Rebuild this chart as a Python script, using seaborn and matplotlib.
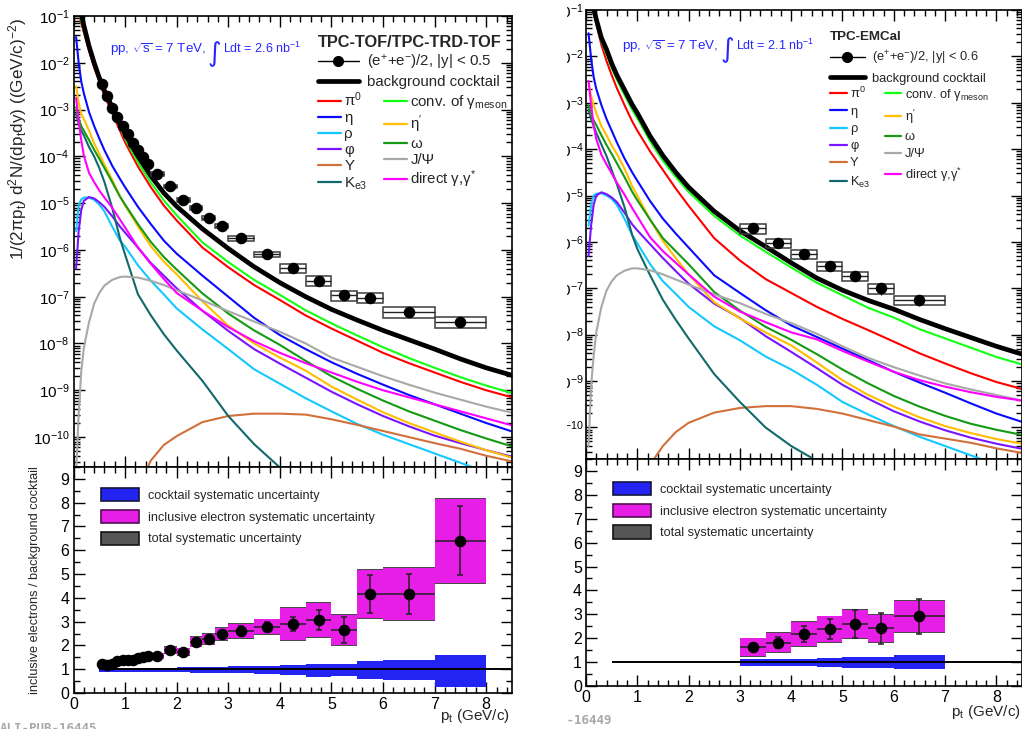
import numpy as np
import pandas as pd
import matplotlib
matplotlib.use("Agg")
import matplotlib.pyplot as plt
from matplotlib.lines import Line2D
from matplotlib.patches import Patch, Rectangle
from matplotlib.ticker import LogLocator, MultipleLocator, NullFormatter
import seaborn as sns

nan = np.nan

# ---------------------------------------------------------------- cocktail
# transverse-momentum grid (GeV/c) on which the cocktail curves are tabulated
PT_GRID = [0.05, 0.1, 0.15, 0.2, 0.3, 0.4, 0.5, 0.6, 0.75, 0.9, 1.0, 1.25, 1.5,
           1.75, 2.0, 2.5, 3.0, 3.5, 4.0, 4.5, 5.0, 5.5, 6.0, 6.5, 7.0, 7.5, 8.0, 8.5]

# TPC-TOF/TPC-TRD-TOF cocktail, log10 of invariant yield
L_BG = [-0.4, -0.75, -0.95, -1.2, -1.64, -2.0, -2.32, -2.6, -2.95, -3.3, -3.52, -4.0, -4.42,
        -4.78, -5.07, -5.55, -5.97, -6.36, -6.7, -7.0, -7.27, -7.5, -7.72, -7.92, -8.12, -8.33, -8.52, -8.68]
L_PI0 = [-0.5, -0.9, -1.15, -1.35, -1.74, -2.1, -2.4, -2.7, -3.08, -3.45, -3.7, -4.22, -4.66,
         -5.05, -5.37, -5.95, -6.37, -6.75, -7.07, -7.4, -7.68, -7.94, -8.2, -8.42, -8.62, -8.82, -9.0, -9.15]
L_ETA = [-1.45, -2.0, -2.4, -2.65, -3.05, -3.35, -3.62, -3.87, -4.2, -4.48, -4.66, -5.08, -5.45,
         -5.8, -6.08, -6.55, -7.0, -7.45, -7.82, -8.12, -8.4, -8.65, -8.88, -9.1, -9.3, -9.5, -9.7, -9.88]
L_RHO = [-5.6, -5.05, -4.92, -4.88, -4.88, -4.93, -5.03, -5.18, -5.5, -5.8, -5.93, -6.33, -6.66,
         -6.95, -7.25, -7.7, -8.12, -8.55, -8.86, -9.17, -9.45, -9.72, -9.95, -10.15, -10.35, -10.55, -10.75, -10.95]
L_PHI = [-6.4, -5.6, -5.15, -4.95, -4.87, -4.9, -4.98, -5.08, -5.28, -5.5, -5.63, -5.95, -6.28,
         -6.55, -6.82, -7.3, -7.73, -8.12, -8.43, -8.73, -9.03, -9.3, -9.55, -9.77, -9.97, -10.13, -10.28, -10.42]
L_UPS = [nan, nan, nan, nan, nan, nan, nan, nan, nan, nan, nan, -11.1, -10.5,
         -10.17, -9.98, -9.68, -9.55, -9.5, -9.5, -9.52, -9.62, -9.74, -9.87, -10.0, -10.13, -10.25, -10.4, -10.52]
L_KE3 = [-3.1, -3.3, -3.45, -3.55, -3.8, -4.0, -4.25, -4.55, -5.1, -5.75, -6.1, -6.95, -7.4,
         -7.8, -8.15, -8.8, -9.55, -10.15, -10.65, -11.1, nan, nan, nan, nan, nan, nan, nan, nan]
L_CONV = [-0.45, -0.85, -1.1, -1.3, -1.68, -2.03, -2.33, -2.62, -3.0, -3.37, -3.62, -4.13, -4.56,
          -4.94, -5.26, -5.84, -6.26, -6.64, -6.96, -7.29, -7.57, -7.83, -8.08, -8.31, -8.52, -8.72, -8.9, -9.06]
L_ETAP = [-2.5, -2.85, -3.1, -3.2, -3.45, -3.72, -3.95, -4.18, -4.5, -4.85, -5.05, -5.5, -5.92,
          -6.25, -6.52, -7.1, -7.62, -8.0, -8.3, -8.58, -8.92, -9.2, -9.47, -9.7, -9.9, -10.1, -10.28, -10.44]
L_OMEGA = [-2.95, -3.2, -3.35, -3.45, -3.65, -3.86, -4.05, -4.25, -4.55, -4.86, -5.03, -5.45, -5.83,
           -6.15, -6.42, -6.93, -7.36, -7.72, -8.03, -8.37, -8.7, -8.97, -9.22, -9.45, -9.65, -9.85, -10.03, -10.2]
L_JPSI = [-10.8, -9.5, -8.6, -8.1, -7.55, -7.15, -6.92, -6.76, -6.64, -6.58, -6.57, -6.59, -6.66,
          -6.75, -6.86, -7.08, -7.31, -7.53, -7.75, -8.0, -8.3, -8.5, -8.7, -8.88, -9.05, -9.2, -9.35, -9.48]
L_DIRECT = [-2.75, -3.25, -3.65, -3.98, -4.35, -4.55, -4.73, -4.88, -5.1, -5.35, -5.52, -5.95, -6.3,
            -6.62, -6.92, -7.3, -7.65, -7.95, -8.2, -8.42, -8.62, -8.82, -9.0, -9.15, -9.3, -9.45, -9.6, -9.75]

# TPC-EMCal cocktail, log10 of invariant yield
R_BG = [-0.45, -0.78, -0.97, -1.2, -1.6, -1.85, -2.15, -2.4, -2.72, -3.04, -3.22, -3.72, -4.14,
        -4.5, -4.82, -5.34, -5.76, -6.1, -6.45, -6.78, -7.04, -7.26, -7.45, -7.67, -7.87, -8.06, -8.25, -8.42]
R_PI0 = [-0.5, -0.8, -1.05, -1.3, -1.75, -2.1, -2.4, -2.68, -3.05, -3.4, -3.6, -4.05, -4.45,
         -4.85, -5.22, -5.92, -6.4, -6.8, -7.1, -7.4, -7.66, -7.9, -8.15, -8.4, -8.62, -8.83, -9.02, -9.17]
R_ETA = [-1.5, -2.05, -2.45, -2.7, -3.05, -3.35, -3.6, -3.85, -4.2, -4.5, -4.68, -5.12, -5.5,
         -5.82, -6.12, -6.72, -7.1, -7.47, -7.8, -8.05, -8.3, -8.55, -8.8, -9.03, -9.25, -9.48, -9.7, -9.88]
R_RHO = [-5.65, -5.2, -5.0, -4.96, -4.95, -5.0, -5.07, -5.2, -5.5, -5.85, -6.03, -6.48, -6.85,
         -7.12, -7.4, -7.82, -8.12, -8.47, -8.75, -9.08, -9.45, -9.72, -9.97, -10.2, -10.4, -10.6, -10.8, -11.0]
R_PHI = [-6.3, -5.64, -5.2, -5.0, -4.93, -4.97, -5.04, -5.14, -5.37, -5.62, -5.75, -6.05, -6.35,
         -6.63, -6.9, -7.33, -7.64, -8.03, -8.37, -8.72, -9.08, -9.38, -9.65, -9.87, -10.06, -10.22, -10.35, -10.46]
R_UPS = [nan, nan, nan, nan, nan, nan, nan, nan, nan, nan, nan, -10.8, -10.4,
         -10.1, -9.9, -9.68, -9.58, -9.54, -9.54, -9.6, -9.7, -9.84, -9.98, -10.15, -10.24, -10.33, -10.45, -10.55]
R_KE3 = [-3.15, -3.35, -3.5, -3.65, -3.9, -4.15, -4.45, -4.75, -5.25, -5.85, -6.15, -6.72, -7.25,
         -7.68, -8.08, -8.85, -9.45, -10.0, -10.4, -10.72, -11.0, nan, nan, nan, nan, nan, nan, nan]
R_CONV = [-0.5, -0.85, -1.05, -1.28, -1.68, -1.95, -2.25, -2.5, -2.83, -3.15, -3.33, -3.83, -4.25,
          -4.6, -4.92, -5.44, -5.86, -6.21, -6.55, -6.88, -7.15, -7.42, -7.63, -7.88, -8.08, -8.28, -8.48, -8.64]
R_ETAP = [-2.6, -2.85, -3.05, -3.22, -3.5, -3.7, -3.92, -4.1, -4.42, -4.8, -5.0, -5.52, -5.98,
          -6.35, -6.7, -7.3, -7.65, -7.95, -8.23, -8.6, -8.98, -9.3, -9.55, -9.78, -9.97, -10.12, -10.25, -10.35]
R_OMEGA = [-3.05, -3.25, -3.38, -3.48, -3.7, -3.91, -4.1, -4.3, -4.6, -4.92, -5.1, -5.52, -5.92,
           -6.2, -6.48, -7.08, -7.48, -7.83, -8.11, -8.42, -8.75, -9.05, -9.32, -9.55, -9.75, -9.92, -10.05, -10.16]
R_JPSI = [-10.4, -9.1, -8.45, -7.95, -7.4, -7.05, -6.85, -6.72, -6.62, -6.57, -6.57, -6.61, -6.7,
          -6.81, -6.92, -7.13, -7.32, -7.55, -7.75, -7.98, -8.25, -8.5, -8.7, -8.88, -9.05, -9.18, -9.3, -9.42]
R_DIRECT = [-2.53, -3.05, -3.5, -3.78, -4.12, -4.33, -4.52, -4.72, -4.98, -5.27, -5.45, -5.9, -6.2,
            -6.45, -6.7, -7.18, -7.5, -7.73, -7.95, -8.1, -8.35, -8.58, -8.8, -8.98, -9.12, -9.24, -9.34, -9.42]

# ---------------------------------------------------------------- measured electrons
L_EDGES = [0.5, 0.6, 0.7, 0.8, 0.9, 1.0, 1.1, 1.2, 1.3, 1.4, 1.5, 1.75, 2.0, 2.25, 2.5,
           2.75, 3.0, 3.5, 4.0, 4.5, 5.0, 5.5, 6.0, 7.0, 8.0]
L_YIELD = [3.47e-3, 1.91e-3, 1.10e-3, 6.9e-4, 4.5e-4, 3.0e-4, 1.95e-4, 1.35e-4, 9.8e-5, 6.9e-5,
           4.2e-5, 2.3e-5, 1.17e-5, 7.8e-6, 4.9e-6, 3.2e-6, 1.78e-6, 8.1e-7, 4.1e-7, 2.2e-7,
           1.07e-7, 9.5e-8, 4.8e-8, 2.95e-8]
L_RATIO = [1.22, 1.18, 1.20, 1.36, 1.38, 1.40, 1.40, 1.47, 1.52, 1.55, 1.55, 1.81, 1.74, 2.15,
           2.28, 2.48, 2.62, 2.79, 2.90, 3.07, 2.65, 4.16, 4.16, 6.39]
L_STAT = [0.06, 0.06, 0.06, 0.06, 0.06, 0.06, 0.06, 0.06, 0.06, 0.06, 0.06, 0.08, 0.08, 0.10,
          0.12, 0.12, 0.20, 0.20, 0.30, 0.43, 0.55, 0.78, 0.84, 1.45]
L_SYS = [0.07, 0.07, 0.07, 0.08, 0.08, 0.08, 0.08, 0.09, 0.09, 0.10, 0.12, 0.13, 0.14, 0.20,
         0.22, 0.25, 0.30, 0.30, 0.66, 0.72, 0.63, 1.00, 1.10, 1.75]
L_TOTAL = [0.09, 0.09, 0.09, 0.10, 0.10, 0.10, 0.10, 0.11, 0.11, 0.12, 0.14, 0.16, 0.17, 0.23,
           0.25, 0.28, 0.34, 0.34, 0.70, 0.76, 0.67, 1.04, 1.14, 1.80]
L_COCK_LO = [0.90, 0.90, 0.90, 0.90, 0.90, 0.90, 0.90, 0.90, 0.90, 0.90, 0.90, 0.88, 0.87, 0.86,
             0.86, 0.85, 0.82, 0.80, 0.76, 0.68, 0.71, 0.58, 0.53, 0.27]
L_COCK_HI = [1.06, 1.06, 1.06, 1.06, 1.06, 1.06, 1.06, 1.06, 1.06, 1.06, 1.06, 1.07, 1.08, 1.09,
             1.10, 1.10, 1.12, 1.13, 1.18, 1.22, 1.22, 1.33, 1.39, 1.60]

R_EDGES = [3.0, 3.5, 4.0, 4.5, 5.0, 5.5, 6.0, 7.0]
R_YIELD = [1.95e-6, 9.5e-7, 5.4e-7, 3.0e-7, 1.82e-7, 1.0e-7, 5.5e-8]
R_RATIO = [1.62, 1.82, 2.18, 2.38, 2.59, 2.41, 2.91]
R_STAT = [0.15, 0.22, 0.33, 0.43, 0.58, 0.66, 0.75]
R_SYS = [0.37, 0.39, 0.49, 0.53, 0.58, 0.56, 0.65]
R_TOTAL = [0.40, 0.43, 0.53, 0.57, 0.62, 0.60, 0.70]
R_COCK_LO = [0.84, 0.83, 0.83, 0.78, 0.74, 0.74, 0.70]
R_COCK_HI = [1.12, 1.12, 1.12, 1.17, 1.23, 1.23, 1.30]

# ---------------------------------------------------------------- styling
SOURCES = ["pi0", "eta", "rho", "phi", "ups", "ke3", "conv", "etap", "omega", "jpsi", "direct"]
LABELS = {
    "pi0": r"π$^{0}$", "eta": "η", "rho": "ρ", "phi": "φ", "ups": "Υ",
    "ke3": r"K$_{\rm e3}$", "conv": r"conv. of γ$_{\rm meson}$", "etap": r"η$^{\prime}$",
    "omega": "ω", "jpsi": "J/Ψ", "direct": r"direct γ,γ$^{*}$",
}
COLORS = {
    "pi0": "#ff0000", "eta": "#0a0aff", "rho": "#14c8ff", "phi": "#7a14ff", "ups": "#d2703c",
    "ke3": "#11696b", "conv": "#11ff11", "etap": "#ffbe00", "omega": "#149a14",
    "jpsi": "#a8a8a8", "direct": "#ff00ff",
}
BLUE_TXT = "#2626ff"
BOX_BLUE = "#2323f2"
BOX_MAGENTA = "#e61ee6"
BOX_GRAY = "#4a4a4a"

sns.set_style("ticks")
plt.rcParams.update({
    "font.family": ["Liberation Sans", "DejaVu Sans"],
    "mathtext.fontset": "custom",
    "mathtext.rm": "Liberation Sans",
    "mathtext.it": "Liberation Sans:italic",
    "mathtext.bf": "Liberation Sans:bold",
    "mathtext.sf": "Liberation Sans",
    "axes.linewidth": 1.1,
    "axes.edgecolor": "black",
    "xtick.color": "black",
    "ytick.color": "black",
})

fig = plt.figure(figsize=(10.22, 7.29), dpi=100)
W, H = 1022.0, 729.0


def fig_rect(x0, y0, x1, y1):
    return [x0 / W, 1 - y1 / H, (x1 - x0) / W, (y1 - y0) / H]


axL_top = fig.add_axes(fig_rect(73.5, 16, 512, 467))
axL_bot = fig.add_axes(fig_rect(73.5, 467, 512, 693))
axR_top = fig.add_axes(fig_rect(586, 10, 1022, 459))
axR_bot = fig.add_axes(fig_rect(586, 459, 1022, 686))


def style_common(ax):
    ax.set_xlim(0, 8.5)
    ax.xaxis.set_major_locator(MultipleLocator(1))
    ax.xaxis.set_minor_locator(MultipleLocator(0.2))
    ax.tick_params(which="both", direction="in", top=True, right=True, width=1.0,
                   labelsize=11.5, pad=3)
    ax.tick_params(which="major", length=8)
    ax.tick_params(which="minor", length=4)
    for s in ax.spines.values():
        s.set_linewidth(1.2)


def style_top(ax, ymin):
    ax.set_yscale("log")
    style_common(ax)
    ax.set_ylim(ymin, 0.1)
    ax.yaxis.set_major_locator(LogLocator(base=10, numticks=30))
    ax.yaxis.set_minor_locator(LogLocator(base=10, subs=np.arange(2, 10), numticks=30))
    ax.yaxis.set_minor_formatter(NullFormatter())
    ax.tick_params(axis="y", labelsize=11)
    ax.tick_params(axis="x", labelbottom=False)


def style_bot(ax):
    style_common(ax)
    ax.set_ylim(0, 9.5)
    ax.yaxis.set_major_locator(MultipleLocator(1))
    ax.yaxis.set_minor_locator(MultipleLocator(0.5))


def cocktail_frame(curves):
    rows = []
    for src, vals in curves.items():
        for pt, v in zip(PT_GRID, vals):
            if not np.isnan(v):
                rows.append((src, pt, 10.0 ** v))
    return pd.DataFrame(rows, columns=["source", "pt", "yield"])


def draw_spectrum(ax, curves, bg, edges, yld, ratio, stat, sys):
    df = cocktail_frame(curves)
    sns.lineplot(data=df, x="pt", y="yield", hue="source", hue_order=SOURCES,
                 palette=COLORS, estimator=None, sort=False, lw=1.5, legend=False, ax=ax)
    bg_df = pd.DataFrame({"pt": PT_GRID, "yield": 10.0 ** np.asarray(bg)})
    sns.lineplot(data=bg_df, x="pt", y="yield", color="black", lw=3.4,
                 estimator=None, sort=False, ax=ax)

    edges = np.asarray(edges)
    centers = 0.5 * (edges[1:] + edges[:-1])
    widths = edges[1:] - edges[:-1]
    yld = np.asarray(yld)
    rel_sys = np.asarray(sys) / np.asarray(ratio)
    rel_stat = np.asarray(stat) / np.asarray(ratio)
    lo = yld * (1 - rel_sys)
    hi = yld * (1 + rel_sys)
    ax.bar(centers, hi - lo, bottom=lo, width=widths, align="center",
           facecolor="none", edgecolor="#3c3c3c", lw=1.1, zorder=5)
    ax.errorbar(centers, yld, xerr=widths / 2, yerr=yld * rel_stat, fmt="none",
                ecolor="#222222", elinewidth=1.0, capsize=0, zorder=6)
    ax.plot(centers, yld, "o", color="black", ms=7.3, zorder=7, ls="none")
    ax.set_xlabel("")
    ax.set_ylabel("")


def draw_ratio(ax, edges, ratio, stat, sys, total, c_lo, c_hi):
    edges = np.asarray(edges)
    centers = 0.5 * (edges[1:] + edges[:-1])
    widths = edges[1:] - edges[:-1]
    ratio = np.asarray(ratio)
    c_lo, c_hi = np.asarray(c_lo), np.asarray(c_hi)
    ax.bar(centers, c_hi - c_lo, bottom=c_lo, width=widths, color=BOX_BLUE, lw=0, zorder=2)
    total = np.asarray(total)
    ax.bar(centers, 2 * total, bottom=ratio - total, width=widths, color=BOX_GRAY, lw=0, zorder=3)
    sys = np.asarray(sys)
    ax.bar(centers, 2 * sys, bottom=ratio - sys, width=widths, color=BOX_MAGENTA, lw=0, zorder=4)
    ax.hlines(1.0, 0.5, 8.5, color="black", lw=1.4, zorder=5)
    ax.errorbar(centers, ratio, xerr=widths / 2, fmt="none", ecolor="#222222",
                elinewidth=1.1, capsize=0, zorder=6)
    ax.errorbar(centers, ratio, yerr=stat, fmt="none", ecolor="#222222",
                elinewidth=1.1, capsize=2.5, capthick=1.1, zorder=6)
    ax.plot(centers, ratio, "o", color="black", ms=7.3, zorder=7, ls="none")


def top_legends(ax, title, data_label, fs, tfs, x0, y_title, y_comp, hl_small, sp1, sp2):
    h_data = Line2D([], [], color="black", marker="o", ms=7, lw=1.0)
    h_bg = Line2D([], [], color="black", lw=3.4)
    leg1 = ax.legend([h_data, h_bg], [data_label, "background cocktail"], title=title,
                     loc="upper left", bbox_to_anchor=(x0, y_title), frameon=False,
                     fontsize=fs, title_fontproperties={"weight": "bold", "size": tfs},
                     alignment="left", handlelength=2.7, handletextpad=0.55,
                     borderpad=0, borderaxespad=0, labelspacing=sp1)
    ax.add_artist(leg1)
    handles = [Line2D([], [], color=COLORS[s], lw=1.6) for s in SOURCES]
    labels = [LABELS[s] for s in SOURCES]
    ax.legend(handles, labels, ncol=2, loc="upper left", bbox_to_anchor=(x0, y_comp),
              frameon=False, fontsize=fs, handlelength=hl_small, handletextpad=0.25,
              columnspacing=1.1, labelspacing=sp2, borderpad=0, borderaxespad=0)


def ratio_legend(ax, x0, y0):
    handles = [Patch(facecolor=BOX_BLUE, edgecolor="#151540", lw=1.2),
               Patch(facecolor=BOX_MAGENTA, edgecolor="#501050", lw=1.2),
               Patch(facecolor="#555555", edgecolor="#151515", lw=1.2)]
    labels = ["cocktail systematic uncertainty",
              "inclusive electron systematic uncertainty",
              "total systematic uncertainty"]
    ax.legend(handles, labels, loc="upper left", bbox_to_anchor=(x0, y0), frameon=False,
              fontsize=9.1, handlelength=3.0, handleheight=1.25, handletextpad=0.7,
              labelspacing=0.62, borderpad=0, borderaxespad=0)


def lumi_text(ax, x, y, lumi):
    t1 = ax.text(x, y, r"pp, $\sqrt{\rm s}$ = 7 TeV,", transform=ax.transAxes,
                 ha="left", va="baseline", color=BLUE_TXT, fontsize=9.6)
    t2 = ax.annotate("∫", xy=(1.0, y), xycoords=(t1, "axes fraction"),
                     xytext=(1.5, -5.5), textcoords="offset points", ha="left",
                     va="baseline", color=BLUE_TXT, fontsize=19, family="DejaVu Sans")
    ax.annotate("Ldt = %s nb$^{-1}$" % lumi, xy=(1.0, y), xycoords=(t2, "axes fraction"),
                xytext=(1.2, 0), textcoords="offset points", ha="left", va="baseline",
                color=BLUE_TXT, fontsize=9.0)


left_curves = {"pi0": L_PI0, "eta": L_ETA, "rho": L_RHO, "phi": L_PHI, "ups": L_UPS,
               "ke3": L_KE3, "conv": L_CONV, "etap": L_ETAP, "omega": L_OMEGA,
               "jpsi": L_JPSI, "direct": L_DIRECT}
right_curves = {"pi0": R_PI0, "eta": R_ETA, "rho": R_RHO, "phi": R_PHI, "ups": R_UPS,
                "ke3": R_KE3, "conv": R_CONV, "etap": R_ETAP, "omega": R_OMEGA,
                "jpsi": R_JPSI, "direct": R_DIRECT}

# ---------------- left: TPC-TOF / TPC-TRD-TOF
style_top(axL_top, 10 ** -10.64)
draw_spectrum(axL_top, left_curves, L_BG, L_EDGES, L_YIELD, L_RATIO, L_STAT, L_SYS)
style_top(axL_top, 10 ** -10.64)
top_legends(axL_top, "TPC-TOF/TPC-TRD-TOF", r"(e$^{+}$+e$^{-}$)/2, |y| < 0.5", 10.8, 11.8,
            0.5576, 0.958, 0.834, 1.5, 0.2, 0.13)
lumi_text(axL_top, 0.083, 0.918, "2.6")
axL_top.set_ylabel(r"1/(2πp$_{\rm t}$) d$^{2}$N/(dp$_{\rm t}$dy) ((GeV/c)$^{-2}$)", fontsize=12.3)
axL_top.yaxis.set_label_coords(-0.127, 0.996)
axL_top.yaxis.label.set(ha="right", va="center")

style_bot(axL_bot)
draw_ratio(axL_bot, L_EDGES, L_RATIO, L_STAT, L_SYS, L_TOTAL, L_COCK_LO, L_COCK_HI)
ratio_legend(axL_bot, 0.063, 0.907)
axL_bot.set_ylabel("inclusive electrons / background cocktail", fontsize=9.2)
axL_bot.yaxis.set_label_coords(-0.088, 0.5)
axL_bot.yaxis.label.set(ha="center", va="center")
axL_bot.set_xlabel(r"p$_{\rm t}$ (GeV/c)", fontsize=11)
axL_bot.xaxis.set_label_coords(0.9955, -0.102)
axL_bot.xaxis.label.set(ha="right", va="center")

# ---------------- right: TPC-EMCal
style_top(axR_top, 10 ** -10.68)
draw_spectrum(axR_top, right_curves, R_BG, R_EDGES, R_YIELD, R_RATIO, R_STAT, R_SYS)
style_top(axR_top, 10 ** -10.68)
axR_top.tick_params(axis="y", pad=1.5)
top_legends(axR_top, "TPC-EMCal", r"(e$^{+}$+e$^{-}$)/2, |y| < 0.6", 9.3, 9.6,
            0.5596, 0.953, 0.832, 1.3, 0.45, 0.4)
lumi_text(axR_top, 0.083, 0.912, "2.1")

style_bot(axR_bot)
draw_ratio(axR_bot, R_EDGES, R_RATIO, R_STAT, R_SYS, R_TOTAL, R_COCK_LO, R_COCK_HI)
ratio_legend(axR_bot, 0.062, 0.899)
axR_bot.set_ylabel("")
axR_bot.set_xlabel(r"p$_{\rm t}$ (GeV/c)", fontsize=11)
axR_bot.xaxis.set_label_coords(0.998, -0.113)
axR_bot.xaxis.label.set(ha="right", va="center")

# the right-hand figure is trimmed at its left edge
fig.add_artist(Rectangle((514 / W, 0), (566.5 - 514) / W, 1, transform=fig.transFigure,
                         facecolor="white", edgecolor="none", zorder=20))

fig.text(0.0, 1 - 722 / H, "ALI-PUB-16445", ha="left", va="top", color="#a8a8a8",
         fontsize=9, family="DejaVu Sans Mono", weight="bold")
fig.text(612 / W, 1 - 721 / H, "ALI-PUB-16449", ha="right", va="center", color="#a8a8a8",
         fontsize=9, family="DejaVu Sans Mono", weight="bold", zorder=10)

fig.savefig("out.png", dpi=100)
